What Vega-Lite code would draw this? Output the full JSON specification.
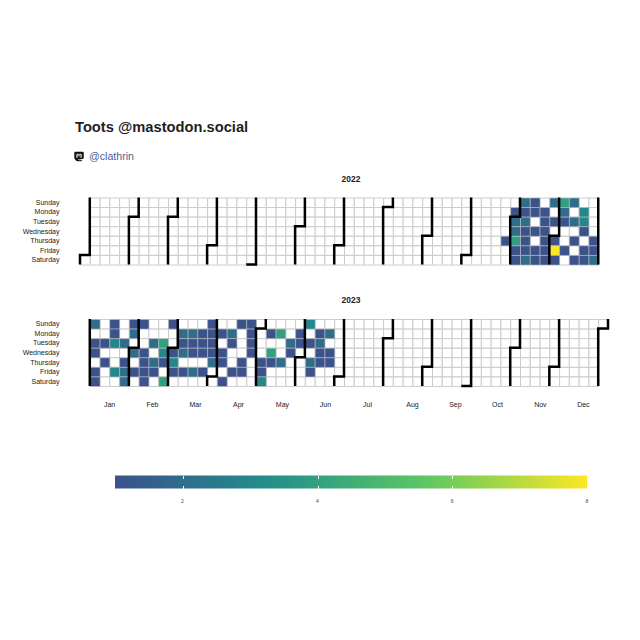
{"$schema":"https://vega.github.io/schema/vega-lite/v6.json","background":"white","padding":{"left":22,"top":119,"right":0,"bottom":0},"bounds":"flush","spacing":54.5,"center":false,"title":{"text":"Toots @mastodon.social","anchor":"start","frame":"group","dx":-5,"offset":7.5,"fontSize":14.7,"fontWeight":"bold","color":"#1f1f1f"},"resolve":{"scale":{"color":"independent"}},"config":{"font":"Liberation Sans","view":{"stroke":null}},
"datasets":{
"cells2022":[{"week":0,"day":6},
{"week":1,"day":0},{"week":1,"day":1},{"week":1,"day":2},{"week":1,"day":3},{"week":1,"day":4},{"week":1,"day":5},{"week":1,"day":6},
{"week":2,"day":0},{"week":2,"day":1},{"week":2,"day":2},{"week":2,"day":3},{"week":2,"day":4},{"week":2,"day":5},{"week":2,"day":6},
{"week":3,"day":0},{"week":3,"day":1},{"week":3,"day":2},{"week":3,"day":3},{"week":3,"day":4},{"week":3,"day":5},{"week":3,"day":6},
{"week":4,"day":0},{"week":4,"day":1},{"week":4,"day":2},{"week":4,"day":3},{"week":4,"day":4},{"week":4,"day":5},{"week":4,"day":6},
{"week":5,"day":0},{"week":5,"day":1},{"week":5,"day":2},{"week":5,"day":3},{"week":5,"day":4},{"week":5,"day":5},{"week":5,"day":6},
{"week":6,"day":0},{"week":6,"day":1},{"week":6,"day":2},{"week":6,"day":3},{"week":6,"day":4},{"week":6,"day":5},{"week":6,"day":6},
{"week":7,"day":0},{"week":7,"day":1},{"week":7,"day":2},{"week":7,"day":3},{"week":7,"day":4},{"week":7,"day":5},{"week":7,"day":6},
{"week":8,"day":0},{"week":8,"day":1},{"week":8,"day":2},{"week":8,"day":3},{"week":8,"day":4},{"week":8,"day":5},{"week":8,"day":6},
{"week":9,"day":0},{"week":9,"day":1},{"week":9,"day":2},{"week":9,"day":3},{"week":9,"day":4},{"week":9,"day":5},{"week":9,"day":6},
{"week":10,"day":0},{"week":10,"day":1},{"week":10,"day":2},{"week":10,"day":3},{"week":10,"day":4},{"week":10,"day":5},{"week":10,"day":6},
{"week":11,"day":0},{"week":11,"day":1},{"week":11,"day":2},{"week":11,"day":3},{"week":11,"day":4},{"week":11,"day":5},{"week":11,"day":6},
{"week":12,"day":0},{"week":12,"day":1},{"week":12,"day":2},{"week":12,"day":3},{"week":12,"day":4},{"week":12,"day":5},{"week":12,"day":6},
{"week":13,"day":0},{"week":13,"day":1},{"week":13,"day":2},{"week":13,"day":3},{"week":13,"day":4},{"week":13,"day":5},{"week":13,"day":6},
{"week":14,"day":0},{"week":14,"day":1},{"week":14,"day":2},{"week":14,"day":3},{"week":14,"day":4},{"week":14,"day":5},{"week":14,"day":6},
{"week":15,"day":0},{"week":15,"day":1},{"week":15,"day":2},{"week":15,"day":3},{"week":15,"day":4},{"week":15,"day":5},{"week":15,"day":6},
{"week":16,"day":0},{"week":16,"day":1},{"week":16,"day":2},{"week":16,"day":3},{"week":16,"day":4},{"week":16,"day":5},{"week":16,"day":6},
{"week":17,"day":0},{"week":17,"day":1},{"week":17,"day":2},{"week":17,"day":3},{"week":17,"day":4},{"week":17,"day":5},{"week":17,"day":6},
{"week":18,"day":0},{"week":18,"day":1},{"week":18,"day":2},{"week":18,"day":3},{"week":18,"day":4},{"week":18,"day":5},{"week":18,"day":6},
{"week":19,"day":0},{"week":19,"day":1},{"week":19,"day":2},{"week":19,"day":3},{"week":19,"day":4},{"week":19,"day":5},{"week":19,"day":6},
{"week":20,"day":0},{"week":20,"day":1},{"week":20,"day":2},{"week":20,"day":3},{"week":20,"day":4},{"week":20,"day":5},{"week":20,"day":6},
{"week":21,"day":0},{"week":21,"day":1},{"week":21,"day":2},{"week":21,"day":3},{"week":21,"day":4},{"week":21,"day":5},{"week":21,"day":6},
{"week":22,"day":0},{"week":22,"day":1},{"week":22,"day":2},{"week":22,"day":3},{"week":22,"day":4},{"week":22,"day":5},{"week":22,"day":6},
{"week":23,"day":0},{"week":23,"day":1},{"week":23,"day":2},{"week":23,"day":3},{"week":23,"day":4},{"week":23,"day":5},{"week":23,"day":6},
{"week":24,"day":0},{"week":24,"day":1},{"week":24,"day":2},{"week":24,"day":3},{"week":24,"day":4},{"week":24,"day":5},{"week":24,"day":6},
{"week":25,"day":0},{"week":25,"day":1},{"week":25,"day":2},{"week":25,"day":3},{"week":25,"day":4},{"week":25,"day":5},{"week":25,"day":6},
{"week":26,"day":0},{"week":26,"day":1},{"week":26,"day":2},{"week":26,"day":3},{"week":26,"day":4},{"week":26,"day":5},{"week":26,"day":6},
{"week":27,"day":0},{"week":27,"day":1},{"week":27,"day":2},{"week":27,"day":3},{"week":27,"day":4},{"week":27,"day":5},{"week":27,"day":6},
{"week":28,"day":0},{"week":28,"day":1},{"week":28,"day":2},{"week":28,"day":3},{"week":28,"day":4},{"week":28,"day":5},{"week":28,"day":6},
{"week":29,"day":0},{"week":29,"day":1},{"week":29,"day":2},{"week":29,"day":3},{"week":29,"day":4},{"week":29,"day":5},{"week":29,"day":6},
{"week":30,"day":0},{"week":30,"day":1},{"week":30,"day":2},{"week":30,"day":3},{"week":30,"day":4},{"week":30,"day":5},{"week":30,"day":6},
{"week":31,"day":0},{"week":31,"day":1},{"week":31,"day":2},{"week":31,"day":3},{"week":31,"day":4},{"week":31,"day":5},{"week":31,"day":6},
{"week":32,"day":0},{"week":32,"day":1},{"week":32,"day":2},{"week":32,"day":3},{"week":32,"day":4},{"week":32,"day":5},{"week":32,"day":6},
{"week":33,"day":0},{"week":33,"day":1},{"week":33,"day":2},{"week":33,"day":3},{"week":33,"day":4},{"week":33,"day":5},{"week":33,"day":6},
{"week":34,"day":0},{"week":34,"day":1},{"week":34,"day":2},{"week":34,"day":3},{"week":34,"day":4},{"week":34,"day":5},{"week":34,"day":6},
{"week":35,"day":0},{"week":35,"day":1},{"week":35,"day":2},{"week":35,"day":3},{"week":35,"day":4},{"week":35,"day":5},{"week":35,"day":6},
{"week":36,"day":0},{"week":36,"day":1},{"week":36,"day":2},{"week":36,"day":3},{"week":36,"day":4},{"week":36,"day":5},{"week":36,"day":6},
{"week":37,"day":0},{"week":37,"day":1},{"week":37,"day":2},{"week":37,"day":3},{"week":37,"day":4},{"week":37,"day":5},{"week":37,"day":6},
{"week":38,"day":0},{"week":38,"day":1},{"week":38,"day":2},{"week":38,"day":3},{"week":38,"day":4},{"week":38,"day":5},{"week":38,"day":6},
{"week":39,"day":0},{"week":39,"day":1},{"week":39,"day":2},{"week":39,"day":3},{"week":39,"day":4},{"week":39,"day":5},{"week":39,"day":6},
{"week":40,"day":0},{"week":40,"day":1},{"week":40,"day":2},{"week":40,"day":3},{"week":40,"day":4},{"week":40,"day":5},{"week":40,"day":6},
{"week":41,"day":0},{"week":41,"day":1},{"week":41,"day":2},{"week":41,"day":3},{"week":41,"day":4},{"week":41,"day":5},{"week":41,"day":6},
{"week":42,"day":0},{"week":42,"day":1},{"week":42,"day":2},{"week":42,"day":3},{"week":42,"day":4},{"week":42,"day":5},{"week":42,"day":6},
{"week":43,"day":0},{"week":43,"day":1},{"week":43,"day":2},{"week":43,"day":3},{"week":43,"day":4,"toots":1},{"week":43,"day":5},{"week":43,"day":6},
{"week":44,"day":0},{"week":44,"day":1,"toots":1},{"week":44,"day":2,"toots":2},{"week":44,"day":3,"toots":2},{"week":44,"day":4,"toots":4},{"week":44,"day":5,"toots":1},{"week":44,"day":6,"toots":1},
{"week":45,"day":0,"toots":2},{"week":45,"day":1,"toots":1},{"week":45,"day":2,"toots":2},{"week":45,"day":3,"toots":1},{"week":45,"day":4,"toots":1},{"week":45,"day":5,"toots":1},{"week":45,"day":6,"toots":2},
{"week":46,"day":0,"toots":1},{"week":46,"day":1,"toots":1},{"week":46,"day":2},{"week":46,"day":3,"toots":1},{"week":46,"day":4},{"week":46,"day":5,"toots":1},{"week":46,"day":6,"toots":1},
{"week":47,"day":0},{"week":47,"day":1,"toots":1},{"week":47,"day":2,"toots":1},{"week":47,"day":3,"toots":1},{"week":47,"day":4,"toots":1},{"week":47,"day":5,"toots":1},{"week":47,"day":6,"toots":1},
{"week":48,"day":0,"toots":2},{"week":48,"day":1},{"week":48,"day":2,"toots":1},{"week":48,"day":3},{"week":48,"day":4,"toots":1},{"week":48,"day":5,"toots":8},{"week":48,"day":6,"toots":1},
{"week":49,"day":0,"toots":4},{"week":49,"day":1,"toots":2},{"week":49,"day":2,"toots":1},{"week":49,"day":3},{"week":49,"day":4},{"week":49,"day":5,"toots":1},{"week":49,"day":6},
{"week":50,"day":0,"toots":2},{"week":50,"day":1},{"week":50,"day":2,"toots":2},{"week":50,"day":3},{"week":50,"day":4,"toots":1},{"week":50,"day":5},{"week":50,"day":6,"toots":1},
{"week":51,"day":0},{"week":51,"day":1,"toots":3},{"week":51,"day":2,"toots":3},{"week":51,"day":3,"toots":1},{"week":51,"day":4},{"week":51,"day":5,"toots":1},{"week":51,"day":6,"toots":1},
{"week":52,"day":0},{"week":52,"day":1},{"week":52,"day":2},{"week":52,"day":3},{"week":52,"day":4,"toots":1},{"week":52,"day":5,"toots":1},{"week":52,"day":6,"toots":2}],
"cells2023":[
{"week":1,"day":0,"toots":2},{"week":1,"day":1},{"week":1,"day":2,"toots":1},{"week":1,"day":3,"toots":1},{"week":1,"day":4},{"week":1,"day":5,"toots":1},{"week":1,"day":6,"toots":1},
{"week":2,"day":0},{"week":2,"day":1},{"week":2,"day":2,"toots":1},{"week":2,"day":3},{"week":2,"day":4,"toots":1},{"week":2,"day":5},{"week":2,"day":6},
{"week":3,"day":0,"toots":1},{"week":3,"day":1,"toots":1},{"week":3,"day":2,"toots":3},{"week":3,"day":3},{"week":3,"day":4},{"week":3,"day":5,"toots":3},{"week":3,"day":6},
{"week":4,"day":0},{"week":4,"day":1},{"week":4,"day":2,"toots":2},{"week":4,"day":3},{"week":4,"day":4,"toots":1},{"week":4,"day":5,"toots":2},{"week":4,"day":6,"toots":2},
{"week":5,"day":0,"toots":1},{"week":5,"day":1,"toots":2},{"week":5,"day":2},{"week":5,"day":3,"toots":2},{"week":5,"day":4},{"week":5,"day":5,"toots":1},{"week":5,"day":6},
{"week":6,"day":0,"toots":1},{"week":6,"day":1},{"week":6,"day":2},{"week":6,"day":3,"toots":1},{"week":6,"day":4,"toots":1},{"week":6,"day":5,"toots":1},{"week":6,"day":6,"toots":1},
{"week":7,"day":0},{"week":7,"day":1},{"week":7,"day":2,"toots":2},{"week":7,"day":3},{"week":7,"day":4,"toots":2},{"week":7,"day":5,"toots":1},{"week":7,"day":6},
{"week":8,"day":0},{"week":8,"day":1},{"week":8,"day":2,"toots":4},{"week":8,"day":3,"toots":3},{"week":8,"day":4,"toots":1},{"week":8,"day":5},{"week":8,"day":6,"toots":4},
{"week":9,"day":0,"toots":1},{"week":9,"day":1},{"week":9,"day":2},{"week":9,"day":3,"toots":1},{"week":9,"day":4,"toots":3},{"week":9,"day":5,"toots":1},{"week":9,"day":6},
{"week":10,"day":0},{"week":10,"day":1,"toots":2},{"week":10,"day":2,"toots":1},{"week":10,"day":3,"toots":2},{"week":10,"day":4},{"week":10,"day":5,"toots":1},{"week":10,"day":6},
{"week":11,"day":0},{"week":11,"day":1,"toots":2},{"week":11,"day":2,"toots":1},{"week":11,"day":3,"toots":1},{"week":11,"day":4},{"week":11,"day":5,"toots":2},{"week":11,"day":6},
{"week":12,"day":0},{"week":12,"day":1,"toots":1},{"week":12,"day":2,"toots":1},{"week":12,"day":3,"toots":1},{"week":12,"day":4},{"week":12,"day":5,"toots":1},{"week":12,"day":6},
{"week":13,"day":0,"toots":1},{"week":13,"day":1,"toots":1},{"week":13,"day":2,"toots":1},{"week":13,"day":3,"toots":1},{"week":13,"day":4,"toots":2},{"week":13,"day":5},{"week":13,"day":6},
{"week":14,"day":0},{"week":14,"day":1,"toots":1},{"week":14,"day":2},{"week":14,"day":3,"toots":1},{"week":14,"day":4,"toots":1},{"week":14,"day":5},{"week":14,"day":6,"toots":1},
{"week":15,"day":0},{"week":15,"day":1,"toots":2},{"week":15,"day":2,"toots":1},{"week":15,"day":3},{"week":15,"day":4},{"week":15,"day":5,"toots":1},{"week":15,"day":6},
{"week":16,"day":0,"toots":1},{"week":16,"day":1},{"week":16,"day":2},{"week":16,"day":3},{"week":16,"day":4,"toots":1},{"week":16,"day":5,"toots":1},{"week":16,"day":6},
{"week":17,"day":0,"toots":1},{"week":17,"day":1,"toots":1},{"week":17,"day":2,"toots":1},{"week":17,"day":3,"toots":1},{"week":17,"day":4},{"week":17,"day":5},{"week":17,"day":6},
{"week":18,"day":0},{"week":18,"day":1},{"week":18,"day":2},{"week":18,"day":3},{"week":18,"day":4,"toots":1},{"week":18,"day":5,"toots":1},{"week":18,"day":6,"toots":3},
{"week":19,"day":0},{"week":19,"day":1,"toots":1},{"week":19,"day":2},{"week":19,"day":3,"toots":4},{"week":19,"day":4,"toots":1},{"week":19,"day":5},{"week":19,"day":6},
{"week":20,"day":0},{"week":20,"day":1,"toots":4},{"week":20,"day":2},{"week":20,"day":3},{"week":20,"day":4,"toots":2},{"week":20,"day":5},{"week":20,"day":6},
{"week":21,"day":0},{"week":21,"day":1},{"week":21,"day":2,"toots":2},{"week":21,"day":3,"toots":1},{"week":21,"day":4},{"week":21,"day":5},{"week":21,"day":6},
{"week":22,"day":0},{"week":22,"day":1,"toots":1},{"week":22,"day":2,"toots":1},{"week":22,"day":3},{"week":22,"day":4},{"week":22,"day":5},{"week":22,"day":6},
{"week":23,"day":0,"toots":3},{"week":23,"day":1},{"week":23,"day":2,"toots":1},{"week":23,"day":3},{"week":23,"day":4,"toots":2},{"week":23,"day":5,"toots":1},{"week":23,"day":6},
{"week":24,"day":0},{"week":24,"day":1,"toots":1},{"week":24,"day":2,"toots":2},{"week":24,"day":3,"toots":1},{"week":24,"day":4,"toots":1},{"week":24,"day":5},{"week":24,"day":6},
{"week":25,"day":0},{"week":25,"day":1,"toots":2},{"week":25,"day":2},{"week":25,"day":3,"toots":1},{"week":25,"day":4,"toots":1},{"week":25,"day":5},{"week":25,"day":6},
{"week":26,"day":0},{"week":26,"day":1},{"week":26,"day":2},{"week":26,"day":3},{"week":26,"day":4},{"week":26,"day":5},{"week":26,"day":6},
{"week":27,"day":0},{"week":27,"day":1},{"week":27,"day":2},{"week":27,"day":3},{"week":27,"day":4},{"week":27,"day":5},{"week":27,"day":6},
{"week":28,"day":0},{"week":28,"day":1},{"week":28,"day":2},{"week":28,"day":3},{"week":28,"day":4},{"week":28,"day":5},{"week":28,"day":6},
{"week":29,"day":0},{"week":29,"day":1},{"week":29,"day":2},{"week":29,"day":3},{"week":29,"day":4},{"week":29,"day":5},{"week":29,"day":6},
{"week":30,"day":0},{"week":30,"day":1},{"week":30,"day":2},{"week":30,"day":3},{"week":30,"day":4},{"week":30,"day":5},{"week":30,"day":6},
{"week":31,"day":0},{"week":31,"day":1},{"week":31,"day":2},{"week":31,"day":3},{"week":31,"day":4},{"week":31,"day":5},{"week":31,"day":6},
{"week":32,"day":0},{"week":32,"day":1},{"week":32,"day":2},{"week":32,"day":3},{"week":32,"day":4},{"week":32,"day":5},{"week":32,"day":6},
{"week":33,"day":0},{"week":33,"day":1},{"week":33,"day":2},{"week":33,"day":3},{"week":33,"day":4},{"week":33,"day":5},{"week":33,"day":6},
{"week":34,"day":0},{"week":34,"day":1},{"week":34,"day":2},{"week":34,"day":3},{"week":34,"day":4},{"week":34,"day":5},{"week":34,"day":6},
{"week":35,"day":0},{"week":35,"day":1},{"week":35,"day":2},{"week":35,"day":3},{"week":35,"day":4},{"week":35,"day":5},{"week":35,"day":6},
{"week":36,"day":0},{"week":36,"day":1},{"week":36,"day":2},{"week":36,"day":3},{"week":36,"day":4},{"week":36,"day":5},{"week":36,"day":6},
{"week":37,"day":0},{"week":37,"day":1},{"week":37,"day":2},{"week":37,"day":3},{"week":37,"day":4},{"week":37,"day":5},{"week":37,"day":6},
{"week":38,"day":0},{"week":38,"day":1},{"week":38,"day":2},{"week":38,"day":3},{"week":38,"day":4},{"week":38,"day":5},{"week":38,"day":6},
{"week":39,"day":0},{"week":39,"day":1},{"week":39,"day":2},{"week":39,"day":3},{"week":39,"day":4},{"week":39,"day":5},{"week":39,"day":6},
{"week":40,"day":0},{"week":40,"day":1},{"week":40,"day":2},{"week":40,"day":3},{"week":40,"day":4},{"week":40,"day":5},{"week":40,"day":6},
{"week":41,"day":0},{"week":41,"day":1},{"week":41,"day":2},{"week":41,"day":3},{"week":41,"day":4},{"week":41,"day":5},{"week":41,"day":6},
{"week":42,"day":0},{"week":42,"day":1},{"week":42,"day":2},{"week":42,"day":3},{"week":42,"day":4},{"week":42,"day":5},{"week":42,"day":6},
{"week":43,"day":0},{"week":43,"day":1},{"week":43,"day":2},{"week":43,"day":3},{"week":43,"day":4},{"week":43,"day":5},{"week":43,"day":6},
{"week":44,"day":0},{"week":44,"day":1},{"week":44,"day":2},{"week":44,"day":3},{"week":44,"day":4},{"week":44,"day":5},{"week":44,"day":6},
{"week":45,"day":0},{"week":45,"day":1},{"week":45,"day":2},{"week":45,"day":3},{"week":45,"day":4},{"week":45,"day":5},{"week":45,"day":6},
{"week":46,"day":0},{"week":46,"day":1},{"week":46,"day":2},{"week":46,"day":3},{"week":46,"day":4},{"week":46,"day":5},{"week":46,"day":6},
{"week":47,"day":0},{"week":47,"day":1},{"week":47,"day":2},{"week":47,"day":3},{"week":47,"day":4},{"week":47,"day":5},{"week":47,"day":6},
{"week":48,"day":0},{"week":48,"day":1},{"week":48,"day":2},{"week":48,"day":3},{"week":48,"day":4},{"week":48,"day":5},{"week":48,"day":6},
{"week":49,"day":0},{"week":49,"day":1},{"week":49,"day":2},{"week":49,"day":3},{"week":49,"day":4},{"week":49,"day":5},{"week":49,"day":6},
{"week":50,"day":0},{"week":50,"day":1},{"week":50,"day":2},{"week":50,"day":3},{"week":50,"day":4},{"week":50,"day":5},{"week":50,"day":6},
{"week":51,"day":0},{"week":51,"day":1},{"week":51,"day":2},{"week":51,"day":3},{"week":51,"day":4},{"week":51,"day":5},{"week":51,"day":6},
{"week":52,"day":0},{"week":52,"day":1},{"week":52,"day":2},{"week":52,"day":3},{"week":52,"day":4},{"week":52,"day":5},{"week":52,"day":6},
{"week":53,"day":0}],
"lines2022":[
{"m":"01","s":0,"wk":1,"dy":0},{"m":"01","s":1,"wk":1,"dy":6},{"m":"01","s":2,"wk":0,"dy":6},{"m":"01","s":3,"wk":0,"dy":7},
{"m":"02","s":0,"wk":6,"dy":0},{"m":"02","s":1,"wk":6,"dy":2},{"m":"02","s":2,"wk":5,"dy":2},{"m":"02","s":3,"wk":5,"dy":7},
{"m":"03","s":0,"wk":10,"dy":0},{"m":"03","s":1,"wk":10,"dy":2},{"m":"03","s":2,"wk":9,"dy":2},{"m":"03","s":3,"wk":9,"dy":7},
{"m":"04","s":0,"wk":14,"dy":0},{"m":"04","s":1,"wk":14,"dy":5},{"m":"04","s":2,"wk":13,"dy":5},{"m":"04","s":3,"wk":13,"dy":7},
{"m":"05","s":0,"wk":18,"dy":0},{"m":"05","s":1,"wk":18,"dy":7},{"m":"05","s":2,"wk":17,"dy":7},
{"m":"06","s":0,"wk":23,"dy":0},{"m":"06","s":1,"wk":23,"dy":3},{"m":"06","s":2,"wk":22,"dy":3},{"m":"06","s":3,"wk":22,"dy":7},
{"m":"07","s":0,"wk":27,"dy":0},{"m":"07","s":1,"wk":27,"dy":5},{"m":"07","s":2,"wk":26,"dy":5},{"m":"07","s":3,"wk":26,"dy":7},
{"m":"08","s":0,"wk":32,"dy":0},{"m":"08","s":1,"wk":32,"dy":1},{"m":"08","s":2,"wk":31,"dy":1},{"m":"08","s":3,"wk":31,"dy":7},
{"m":"09","s":0,"wk":36,"dy":0},{"m":"09","s":1,"wk":36,"dy":4},{"m":"09","s":2,"wk":35,"dy":4},{"m":"09","s":3,"wk":35,"dy":7},
{"m":"10","s":0,"wk":40,"dy":0},{"m":"10","s":1,"wk":40,"dy":6},{"m":"10","s":2,"wk":39,"dy":6},{"m":"10","s":3,"wk":39,"dy":7},
{"m":"11","s":0,"wk":45,"dy":0},{"m":"11","s":1,"wk":45,"dy":2},{"m":"11","s":2,"wk":44,"dy":2},{"m":"11","s":3,"wk":44,"dy":7},
{"m":"12","s":0,"wk":49,"dy":0},{"m":"12","s":1,"wk":49,"dy":4},{"m":"12","s":2,"wk":48,"dy":4},{"m":"12","s":3,"wk":48,"dy":7},
{"m":"13","s":0,"wk":53,"dy":0},{"m":"13","s":1,"wk":53,"dy":7}],
"lines2023":[
{"m":"01","s":0,"wk":1,"dy":0},{"m":"01","s":1,"wk":1,"dy":7},
{"m":"02","s":0,"wk":6,"dy":0},{"m":"02","s":1,"wk":6,"dy":3},{"m":"02","s":2,"wk":5,"dy":3},{"m":"02","s":3,"wk":5,"dy":7},
{"m":"03","s":0,"wk":10,"dy":0},{"m":"03","s":1,"wk":10,"dy":3},{"m":"03","s":2,"wk":9,"dy":3},{"m":"03","s":3,"wk":9,"dy":7},
{"m":"04","s":0,"wk":14,"dy":0},{"m":"04","s":1,"wk":14,"dy":6},{"m":"04","s":2,"wk":13,"dy":6},{"m":"04","s":3,"wk":13,"dy":7},
{"m":"05","s":0,"wk":19,"dy":0},{"m":"05","s":1,"wk":19,"dy":1},{"m":"05","s":2,"wk":18,"dy":1},{"m":"05","s":3,"wk":18,"dy":7},
{"m":"06","s":0,"wk":23,"dy":0},{"m":"06","s":1,"wk":23,"dy":4},{"m":"06","s":2,"wk":22,"dy":4},{"m":"06","s":3,"wk":22,"dy":7},
{"m":"07","s":0,"wk":27,"dy":0},{"m":"07","s":1,"wk":27,"dy":6},{"m":"07","s":2,"wk":26,"dy":6},{"m":"07","s":3,"wk":26,"dy":7},
{"m":"08","s":0,"wk":32,"dy":0},{"m":"08","s":1,"wk":32,"dy":2},{"m":"08","s":2,"wk":31,"dy":2},{"m":"08","s":3,"wk":31,"dy":7},
{"m":"09","s":0,"wk":36,"dy":0},{"m":"09","s":1,"wk":36,"dy":5},{"m":"09","s":2,"wk":35,"dy":5},{"m":"09","s":3,"wk":35,"dy":7},
{"m":"10","s":0,"wk":40,"dy":0},{"m":"10","s":1,"wk":40,"dy":7},{"m":"10","s":2,"wk":39,"dy":7},
{"m":"11","s":0,"wk":45,"dy":0},{"m":"11","s":1,"wk":45,"dy":3},{"m":"11","s":2,"wk":44,"dy":3},{"m":"11","s":3,"wk":44,"dy":7},
{"m":"12","s":0,"wk":49,"dy":0},{"m":"12","s":1,"wk":49,"dy":5},{"m":"12","s":2,"wk":48,"dy":5},{"m":"12","s":3,"wk":48,"dy":7},
{"m":"13","s":0,"wk":54,"dy":0},{"m":"13","s":1,"wk":54,"dy":1},{"m":"13","s":2,"wk":53,"dy":1},{"m":"13","s":3,"wk":53,"dy":7}]
},
"vconcat":[
{"width":528,"height":1,"data":{"values":[{"pos":-0.1,"line":-13.5,"handle":"@clathrin"}]},"layer":[
{"mark":{"type":"point","filled":true,"opacity":1,"color":"#111111","size":90,"shape":"M-0.8,-1 L0.8,-1 Q1,-1 1,-0.7 L1,0.2 Q1,0.5 0.7,0.55 Q0.2,0.65 -0.3,0.6 Q-0.2,0.85 0.6,0.75 L0.6,0.95 Q-0.1,1.1 -0.6,0.9 Q-1,0.7 -1,0.1 L-1,-0.7 Q-1,-1 -0.8,-1 Z M-.55,.25 L-.32,.25 L-.32,-.28 Q-.32,-.4 -.22,-.4 Q-.1,-.4 -.1,-.28 L-.1,0 L.1,0 L.1,-.28 Q.1,-.4 .22,-.4 Q.32,-.4 .32,-.28 L.32,.25 L.55,.25 L.55,-.3 Q.55,-.6 .25,-.6 Q0,-.6 0,-.3 Q0,-.6 -.25,-.6 Q-.55,-.6 -.55,-.3 Z"},"encoding":{"x":{"field":"pos","type":"quantitative","scale":{"domain":[0,54],"nice":false,"zero":false},"axis":null},"y":{"field":"line","type":"quantitative","scale":{"domain":[0,1],"nice":false,"zero":false},"axis":null}}},
{"mark":{"type":"text","align":"left","baseline":"middle","fontSize":10.6,"color":"#4a5f98","dx":10},"encoding":{"text":{"field":"handle"},"x":{"field":"pos","type":"quantitative","axis":null},"y":{"field":"line","type":"quantitative","axis":null}}}
]},
{"width":528,"height":67,"title":{"text":"2022","fontSize":8.5,"fontWeight":"bold","color":"#222222","dx":7,"offset":9},"layer":[
{"data":{"name":"cells2022"},"mark":{"type":"rect","fill":"white","stroke":"#cccccc","strokeWidth":1},"encoding":{
"x":{"field":"week","type":"quantitative","bin":{"extent":[0,54],"step":1},"axis":null,"scale":{"domain":[0,54],"nice":false,"zero":false}},
"y":{"field":"day","type":"quantitative","bin":{"extent":[0,7],"step":1},"scale":{"domain":[0,7],"reverse":true,"nice":false},"axis":{"title":null,"domain":false,"ticks":false,"grid":false,"labelPadding":21,"labelFontSize":7,"labelColor":"#222222","values":[0.5,1.5,2.5,3.5,4.5,5.5,6.5],"labelExpr":"['Sunday','Monday','Tuesday','Wednesday','Thursday','Friday','Saturday'][floor(datum.value)]"}}}},
{"data":{"name":"cells2022"},"transform":[{"filter":"datum.toots>0"}],"mark":{"type":"rect","stroke":"#cccccc","strokeWidth":1,"strokeOpacity":0.5},"encoding":{
"x":{"field":"week","type":"quantitative","bin":{"extent":[0,54],"step":1}},
"y":{"field":"day","type":"quantitative","bin":{"extent":[0,7],"step":1}},
"color":{"field":"toots","type":"quantitative","legend":null,"scale":{"domain":[1,8],"interpolate":"rgb","range":["#3b528b","#21908c","#5ec962","#fde725"]}}}},
{"data":{"name":"lines2022"},"mark":{"type":"line","color":"black","strokeWidth":2.5,"strokeJoin":"miter","strokeCap":"butt"},"encoding":{
"x":{"field":"wk","type":"quantitative"},
"y":{"field":"dy","type":"quantitative"},
"detail":{"field":"m"},"order":{"field":"s","type":"quantitative"}}}
]},
{"width":528,"height":67,"title":{"text":"2023","fontSize":8.5,"fontWeight":"bold","color":"#222222","dx":7,"offset":10},"layer":[
{"data":{"name":"cells2023"},"mark":{"type":"rect","fill":"white","stroke":"#cccccc","strokeWidth":1},"encoding":{
"x":{"field":"week","type":"quantitative","bin":{"extent":[0,54],"step":1},"scale":{"domain":[0,54],"nice":false,"zero":false},"axis":{"orient":"bottom","title":null,"grid":false,"domain":false,"ticks":false,"labelPadding":14,"labelFontSize":7,"labelColor":"#222222","values":[2.97,7.36,11.76,16.16,20.65,25.05,29.35,33.95,38.34,42.64,47.03,51.43],"labelExpr":"['Jan','Feb','Mar','Apr','May','Jun','Jul','Aug','Sep','Oct','Nov','Dec'][round((datum.value-2.97)/4.41)]"}},
"y":{"field":"day","type":"quantitative","bin":{"extent":[0,7],"step":1},"scale":{"domain":[0,7],"reverse":true,"nice":false},"axis":{"title":null,"domain":false,"ticks":false,"grid":false,"labelPadding":21,"labelFontSize":7,"labelColor":"#222222","values":[0.5,1.5,2.5,3.5,4.5,5.5,6.5],"labelExpr":"['Sunday','Monday','Tuesday','Wednesday','Thursday','Friday','Saturday'][floor(datum.value)]"}}}},
{"data":{"name":"cells2023"},"transform":[{"filter":"datum.toots>0"}],"mark":{"type":"rect","stroke":"#cccccc","strokeWidth":1,"strokeOpacity":0.5},"encoding":{
"x":{"field":"week","type":"quantitative","bin":{"extent":[0,54],"step":1}},
"y":{"field":"day","type":"quantitative","bin":{"extent":[0,7],"step":1}},
"color":{"field":"toots","type":"quantitative","legend":null,"scale":{"domain":[1,8],"interpolate":"rgb","range":["#3b528b","#21908c","#5ec962","#fde725"]}}}},
{"data":{"name":"lines2023"},"mark":{"type":"line","color":"black","strokeWidth":2.5,"strokeJoin":"miter","strokeCap":"butt"},"encoding":{
"x":{"field":"wk","type":"quantitative"},
"y":{"field":"dy","type":"quantitative"},
"detail":{"field":"m"},"order":{"field":"s","type":"quantitative"}}}
]},
{"width":528,"height":48,"data":{"values":[{"toots":1},{"toots":8}]},"mark":{"type":"circle","size":0,"opacity":1},"encoding":{
"x":{"field":"toots","type":"quantitative","scale":{"domain":[1,8],"range":[35.8,506.6],"nice":false,"zero":false},"axis":{"orient":"top","zindex":1,"title":null,"grid":false,"domain":false,"labels":false,"values":[2,4,6,8],"offset":-48,"tickColor":"white","tickSize":13,"tickWidth":1,"tickDash":[3,7,3]}},
"color":{"field":"toots","type":"quantitative","scale":{"domain":[1,8],"interpolate":"rgb","range":["#3b528b","#21908c","#5ec962","#fde725"]},"legend":{"orient":"none","legendX":35,"legendY":35,"type":"gradient","direction":"horizontal","title":null,"padding":0,"values":[2,4,6,8],"gradientOpacity":1,"gradientLength":472,"gradientThickness":13,"gradientStrokeWidth":0,"labelFontSize":5,"labelColor":"#444444","labelOffset":10,"encode":{"labels":{"update":{"align":{"value":"center"}}}}}}}}
]}
